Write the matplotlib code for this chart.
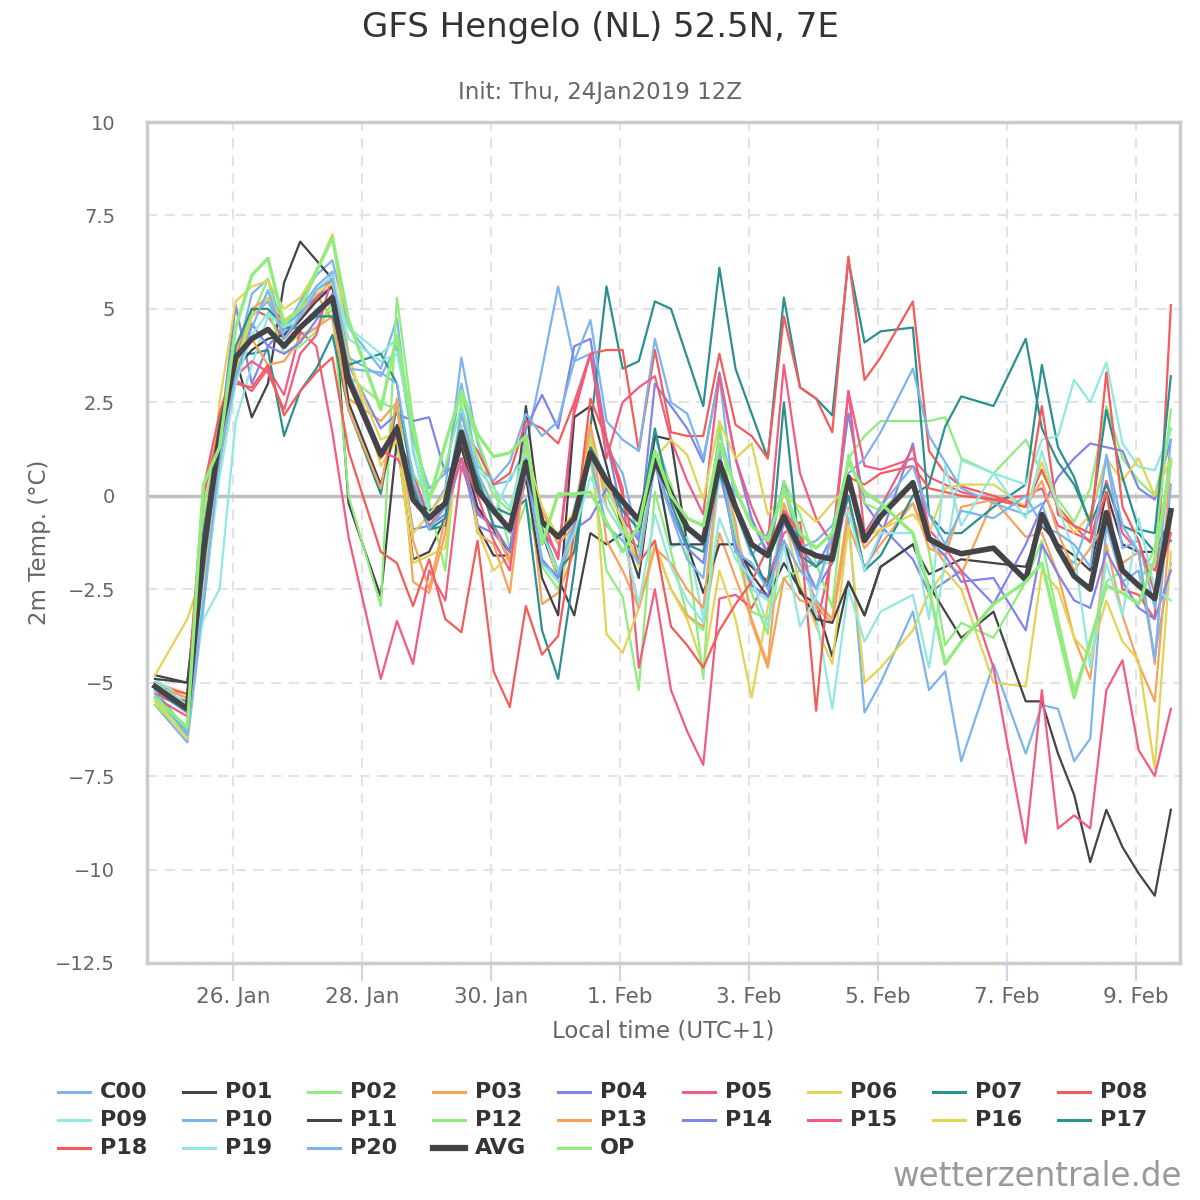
import matplotlib
matplotlib.use("Agg")
import matplotlib.pyplot as plt
from matplotlib.lines import Line2D

plt.rcParams["font.family"] = ["DejaVu Sans"]

# hours since 26 Jan 00:00 local time (UTC+1)
hours = [-29, -17, -11, -5, 1, 7, 13, 19, 25, 31, 37, 43,
         55, 61, 67, 73, 79, 85, 91, 97, 103, 109, 115, 121, 127, 133, 139, 145,
         151, 157, 163, 169, 175, 181, 187, 193, 199, 205, 211, 217, 223, 229, 235, 241,
         253, 259, 265, 271, 283, 295, 301, 307, 313, 319, 325, 331, 337, 343, 349]

C00 = [-5.6, -6.6, -3.0, 0.8, 3.6, 5.4, 5.8, 4.4, 5.2, 5.9, 6.3, 4.5,
       3.4, 4.75, 1.2, -0.5, 0.2, 3.7, 1.4, 0.3, 0.4, 1.3, 3.4, 5.6, 3.6, 3.8, 1.3, 0.6,
       -1.2, 1.6, 0.2, -0.9, -1.3, 1.7, 0.1, -0.7, -1.5, -0.5, -1.8, -2.8, -3.3, -0.6, -5.8, -5.0,
       -3.1, -5.2, -4.7, -7.1, -4.5, -6.9, -5.6, -5.7, -7.1, -6.5, -0.8, -2.3, -2.0, -4.3, -1.8]
P01 = [-4.8, -5.0, -1.0, 2.0, 3.7, 2.1, 3.0, 5.7, 6.8, 6.3, 5.8, -0.2,
       -2.7, 1.5, -1.7, -1.5, -0.6, 1.5, -0.8, -1.6, -1.6, 2.4, -1.0, -2.2, -3.2, -1.0, -1.3, -1.0,
       -1.4, 1.6, 1.5, -1.3, -1.3, 1.2, -1.5, -1.9, -2.3, -1.2, -2.6, -2.9, -4.3, -2.3, -3.2, -1.9,
       -1.3, -2.1, -1.9, -1.7, -1.8, -1.9, -0.8, -1.3, -1.6, -2.0, 0.1, -1.3, -1.5, -1.5, -0.6]
P02 = [-5.5, -6.3, -0.5, 1.0, 3.8, 4.8, 5.8, 4.0, 4.3, 4.5, 5.0, 0.0,
       -2.95, 5.3, 2.0, -0.2, -2.0, 2.6, 1.5, 0.3, -1.4, -0.2, -1.9, -2.5, -1.0, 1.0, -2.0, -2.7,
       -5.2, 0.1, -1.5, -3.2, -3.6, 1.0, -1.4, -3.1, -3.3, -2.2, -2.0, -1.8, -1.8, 1.0, 1.6, 2.0,
       2.0, 2.0, 2.1, 1.0, 0.6, 1.5, 0.6, -0.1, -0.7, 0.2, 2.4, 1.0, 0.4, 0.0, 1.8]
P03 = [-5.0, -5.3, -1.8, 2.0, 3.8, 5.0, 5.3, 4.5, 4.9, 5.4, 4.7, 2.6,
       2.0, 2.5, -2.3, -2.6, -1.0, 1.6, -1.0, -1.3, -2.6, 1.0, -2.9, -2.6, -1.5, 1.8, -1.2, -2.0,
       -3.0, -1.3, -2.5, -3.2, -3.5, -1.0, -2.2, -3.3, -4.5, -0.2, -1.4, -3.0, -3.4, -0.8, -1.9, -1.3,
       -0.2, -1.2, -1.8, -2.1, -0.1, -1.1, -1.0, -2.1, -3.8, -4.9, -1.3, -3.2, -4.5, -5.5, -0.6]
P04 = [-5.0, -5.7, -2.0, 1.5, 5.1, 3.0, 4.0, 4.5, 4.9, 5.3, 5.6, 3.5,
       1.8, 2.2, 2.0, 2.1, 0.6, 1.0, -0.8, -1.0, -1.5, 1.8, 2.7, 1.8, 4.0, 4.2, 1.5, -0.6,
       -1.2, 3.0, 2.4, 1.8, 0.9, 3.3, 1.0, -0.6, -1.6, 0.4, -1.4, -1.9, -1.1, 2.2, -0.2, -0.8,
       -1.7, -2.6, -2.3, -2.0, -2.9, -1.3, -0.3, 0.5, 1.0, 1.4, 1.3, 1.2, 0.2, -0.1, 1.5]
P05 = [-5.3, -5.7, -1.2, 1.0, 3.1, 2.8, 3.4, 2.7, 4.4, 4.0, 1.7, -1.1,
       -4.9, -3.35, -4.5, -2.0, -2.8, 0.8, -0.4, -0.9, -1.7, 1.0, -0.6, -1.7, 2.2, 3.8, 1.5, 0.2,
       -4.6, -2.5, -5.2, -6.3, -7.2, -2.75, -2.65, -3.0, -2.2, -1.0, -0.7, -3.5, -1.6, 2.8, 0.8, 0.7,
       1.0, 0.5, 0.3, 0.1, -0.1, 0.0, 0.2, -0.8, -1.0, -1.2, 0.4, -1.0, -1.5, -2.0, -0.5]
P06 = [-4.8, -3.3, -2.0, 2.5, 5.2, 5.6, 5.75, 5.0, 5.3, 6.0, 7.0, 3.8,
       0.8, 1.5, -1.8, -1.6, -1.4, 1.8, -0.9, -2.0, -1.6, 1.6, -0.8, -2.3, -1.0, 2.0, -3.7, -4.2,
       -3.0, -1.3, -2.5, -3.3, -4.6, -2.0, -3.3, -5.4, -3.0, -0.5, -2.4, -3.5, -4.5, -0.8, -5.0, -4.6,
       -3.6, -2.6, -2.0, -2.5, -5.0, -5.1, -2.0, -2.5, -3.8, -4.3, -2.8, -3.9, -4.4, -7.3, -1.5]
P07 = [-5.2, -5.8, -1.3, 2.0, 3.8, 3.8, 3.9, 1.6, 2.8, 3.4, 4.3, 2.3,
       0.05, 2.4, 0.6, -0.9, -0.8, 2.3, 0.3, -0.3, -0.5, -0.1, -3.6, -4.9, -2.0, 1.8, 5.6, 3.4,
       3.6, 5.2, 5.0, 3.7, 2.4, 6.1, 3.4, 2.2, 1.0, 5.3, 2.9, 2.6, 2.15, 6.3, 4.1, 4.4,
       4.5, -0.5, -1.0, -1.0, -0.3, 0.3, 3.5, 1.3, 0.5, -0.8, 0.3, -0.8, -1.0, -1.5, -1.2]
P08 = [-5.1, -5.3, 0.2, 2.2, 3.6, 5.0, 4.8, 4.2, 4.7, 5.3, 5.8, 3.2,
       1.0, 1.6, 0.6, -0.6, -0.3, 1.8, 1.2, 0.3, 0.6, 2.0, 1.8, 1.4, 2.5, 3.8, 3.9, 3.9,
       1.2, 3.9, 1.7, 1.6, 1.6, 3.8, 1.9, 1.6, 1.0, 4.8, 2.9, 2.6, 1.7, 6.4, 3.1, 3.7,
       5.2, 1.2, 0.6, 0.25, 0.0, -0.3, 0.7, -0.3, -0.8, -1.25, 0.1, -2.5, -2.65, -3.3, 5.1]
P09 = [-4.9, -5.5, -3.3, -2.5, 2.0, 3.5, 4.8, 4.6, 4.5, 5.0, 5.3, 4.5,
       3.8, 4.2, 1.3, -0.6, -0.2, 1.9, 0.5, -0.5, 0.5, 1.0, -1.8, -2.3, -0.3, 1.6, 0.2, -0.7,
       -1.5, 1.2, -1.4, -1.1, -3.3, 0.5, -0.9, -2.5, -2.8, -0.6, -1.3, -3.2, -5.7, -2.5, -3.9, -3.1,
       -2.65, -4.6, -1.7, 0.95, 0.6, 0.3, 1.5, 1.6, 3.1, 2.5, 3.57, 1.4, 0.78, 0.68, 1.75]
P10 = [-5.2, -6.3, -2.5, 1.5, 3.3, 4.8, 5.2, 4.3, 5.0, 5.6, 6.0, 3.7,
       3.2, 4.0, 1.5, 0.2, 0.6, 3.0, 0.8, 0.4, 0.9, 2.2, 1.6, 2.0, 3.6, 4.7, 2.0, 1.5,
       1.2, 4.2, 2.5, 2.2, 1.0, 3.2, -0.4, -1.6, -1.0, 0.2, -1.4, -1.2, -0.8, 0.6, 1.0, 1.7,
       3.4, 1.6, 0.9, 0.2, -0.2, -0.5, -0.2, -1.5, -1.8, -0.6, 1.0, -1.4, -1.2, -3.0, 1.5]
P11 = [-4.9, -5.0, -1.6, 1.5, 3.4, 3.9, 4.2, 4.3, 4.7, 5.2, 5.6, 2.5,
       0.3, 1.9, -0.1, -0.4, -0.2, 1.3, -0.3, -0.9, -1.5, 0.5, -2.2, -3.2, 2.1, 2.4, 0.8, -0.9,
       -2.2, 1.0, -1.3, -1.3, -2.6, -1.3, -1.3, -2.1, -2.7, -1.8, -2.5, -3.3, -3.4, -2.3, -3.2, -1.9,
       -1.3, -2.4, -3.1, -3.8, -3.1, -5.5, -5.5, -6.9, -8.0, -9.8, -8.4, -9.4, -10.1, -10.7, -8.4]
P12 = [-5.6, -6.4, -0.3, 1.5, 3.5, 5.0, 5.0, 3.8, 4.0, 4.4, 5.2, 3.2,
       2.5, 2.3, 0.6, -0.1, 0.8, 2.4, 1.0, 0.0, -0.4, 1.4, -0.8, -1.0, -0.7, 1.8, 0.0, -0.9,
       -1.7, 1.2, 0.3, -1.4, -4.9, 2.0, -1.1, -2.6, -3.7, 0.4, -0.5, -1.8, -3.0, 1.1, -0.2, -0.4,
       0.4, -1.5, -4.0, -3.4, -3.8, -2.3, -1.2, -3.3, -5.2, -4.0, -2.3, -2.0, -2.4, -1.4, 2.3]
P13 = [-5.1, -5.4, -1.5, 1.8, 3.6, 4.2, 3.5, 3.6, 4.2, 4.5, 4.8, 2.3,
       0.2, 2.6, -1.2, -2.5, -0.6, 2.2, 0.5, -0.8, -1.8, 0.6, -0.4, -1.3, -0.8, 1.9, -0.3, -1.0,
       -3.0, -1.4, -1.8, -2.5, -3.0, 0.8, -0.7, -3.4, -4.6, -2.2, -2.8, -2.9, -3.3, -0.3, -1.4, -0.9,
       -0.2, -1.4, -1.6, -0.3, -0.1, -0.3, 0.4, -1.0, -2.0, -1.4, -0.7, -1.8, -1.5, -4.5, 1.0]
P14 = [-5.1, -5.8, -2.2, 1.2, 3.2, 4.6, 4.0, 3.8, 4.1, 4.7, 5.4, 3.3,
       1.2, 1.7, -0.9, -0.8, -0.5, 1.0, -0.5, -0.8, -1.5, 0.7, -1.7, -2.2, -0.9, -0.6, 0.2, -0.4,
       -0.6, 0.9, -0.4, -1.4, -1.8, 0.7, -1.3, -2.4, -2.7, -0.7, -1.6, -2.5, -1.8, 0.0, -2.0, -1.1,
       1.4, -1.2, -1.6, -2.3, -2.2, -3.6, -1.3, -2.1, -2.8, -3.0, -1.5, -2.3, -3.0, -3.3, -2.0]
P15 = [-5.4, -5.9, -1.0, 1.8, 3.2, 3.6, 3.3, 2.3, 3.8, 4.3, 5.9, 3.0,
       1.2, 1.0, 0.3, -0.8, -0.3, 1.0, 0.0, -1.2, -2.0, 1.2, -0.9, -1.6, 2.4, 3.8, 1.0, 2.5,
       2.9, 3.2, 1.5, 0.4, -0.5, 3.2, 1.0, -0.3, -1.3, 3.5, 0.6, -0.6, -1.3, 2.8, -1.0, -0.3,
       1.3, -0.9, -1.4, -2.0, -4.6, -9.3, -5.2, -8.9, -8.55, -8.9, -5.2, -4.4, -6.8, -7.5, -5.7]
P16 = [-5.5, -6.5, -2.5, 1.0, 3.3, 4.8, 5.3, 4.7, 5.0, 5.4, 5.7, 3.6,
       1.5, 1.7, -1.0, -0.5, 0.1, 1.6, 0.6, -0.3, -0.9, 1.2, -0.3, -1.1, -0.4, 1.5, 0.3, -0.7,
       -1.9, 1.0, 1.5, 1.1, -0.1, 2.0, 1.0, 1.4, -0.5, 0.0, -0.3, -0.7, -0.2, 0.3, -1.1, -0.9,
       -0.5, -1.0, 0.2, 0.3, 0.3, -0.3, 0.9, -0.3, -1.0, -0.5, 1.0, 0.4, 1.0, 0.0, 1.0]
P17 = [-5.0, -5.6, -1.0, 1.5, 4.0, 5.0, 5.0, 4.5, 4.5, 4.8, 4.8, 3.5,
       3.8, 3.0, 0.2, -0.9, -0.6, 2.3, 0.5, -0.8, -0.9, 0.8, -0.9, -2.0, -1.5, 1.3, 0.5, -0.4,
       -0.9, 1.8, -0.2, -1.3, -1.5, 0.6, -0.4, -1.5, -2.5, 2.5, -1.6, -1.9, -1.5, 0.0, -2.0, -1.6,
       0.0, 0.3, 1.85, 2.66, 2.4, 4.2, 1.8, 0.9, 0.3, -0.7, 2.3, 0.5, -0.9, -1.0, 3.2]
P18 = [-5.3, -5.5, 0.0, 1.8, 3.0, 2.9, 3.5, 2.15, 2.8, 3.3, 3.7, 1.2,
       -1.5, -1.8, -2.95, -1.7, -3.3, -3.65, -1.2, -4.7, -5.65, -2.95, -4.25, -3.75, -1.0, 2.6, 1.5, 0.0,
       -1.8, -1.2, -3.5, -4.0, -4.6, -3.6, -2.9, -2.3, -1.4, -0.4, -1.0, -5.75, -1.2, 0.5, 0.3, 0.6,
       0.8, 0.2, 0.1, 0.0, -0.1, -0.3, 2.4, -0.5, -0.8, -1.0, 3.3, -0.3, -1.2, -2.6, -1.0]
P19 = [-5.0, -5.6, -2.7, 0.5, 3.0, 4.3, 4.9, 4.5, 4.8, 5.5, 5.9, 4.2,
       3.6, 3.8, 1.8, -0.5, -0.2, 2.3, 0.7, 0.2, -0.3, 1.1, -1.0, -2.0, -1.0, 0.5, -0.3, -1.0,
       -2.9, -0.5, -1.9, -2.8, -3.4, -0.6, -1.7, -2.2, -3.5, -1.3, -3.5, -2.7, -1.0, -0.4, -2.0, -1.0,
       -1.0, -3.3, 0.8, -0.8, 0.6, -0.6, 1.2, -0.3, -1.5, -4.6, -1.8, -3.2, -0.6, -2.5, -2.8]
P20 = [-5.3, -6.4, -2.8, 1.0, 3.2, 4.5, 5.5, 4.2, 4.8, 5.5, 5.8, 3.4,
       3.3, 3.0, 0.5, -0.9, -0.3, 2.2, 0.6, -0.3, -1.0, 1.0, -1.8, -2.1, -0.7, 1.0, -0.8, -1.2,
       -1.8, 0.8, -0.5, -1.7, -2.2, 1.2, -1.5, -1.8, -2.5, -1.2, -2.0, -2.5, -1.1, 0.5, -1.2, -0.3,
       0.8, -0.5, -1.3, -0.4, -0.6, 0.0, -0.8, -1.0, -1.3, -1.9, 1.1, -0.8, -1.5, -4.4, 0.3]
AVG = [-5.1, -5.7, -1.5, 1.6, 3.7, 4.2, 4.45, 4.0, 4.5, 4.9, 5.3, 3.1,
       1.1, 1.8, -0.1, -0.6, -0.2, 1.7, 0.15, -0.4, -0.9, 0.9, -0.7, -1.1, -0.6, 1.15, 0.4, -0.15,
       -0.65, 0.95, 0.05, -0.85, -1.2, 0.9, -0.3, -1.3, -1.6, -0.55, -1.4, -1.6, -1.7, 0.5, -1.2, -0.55,
       0.35, -1.15, -1.4, -1.55, -1.4, -2.25, -0.5, -1.4, -2.15, -2.5, -0.45, -2.0, -2.4, -2.75, -0.4]
OP = [-5.4, -6.2, 0.3, 1.3, 4.5, 5.9, 6.35, 4.6, 5.0, 6.0, 6.9, 4.7,
      2.3, 4.3, 1.7, -0.1, 1.4, 2.8, 1.65, 1.05, 1.15, 1.6, -1.3, 0.05, 0.05, 0.1, -0.7, -1.5,
      -0.8, 1.2, 0.0, -0.6, -0.8, 1.4, 0.2, -0.8, -1.2, 0.2, -1.0, -1.4, -1.0, 0.9, 0.1, -0.2,
      -1.0, -2.5, -4.5, -3.9, -2.9, -2.3, -1.8, -3.6, -5.4, -3.9, -2.4, -2.6, -2.9, -1.7, 0.9]

names = ["C00", "P01", "P02", "P03", "P04", "P05", "P06", "P07", "P08", "P09",
         "P10", "P11", "P12", "P13", "P14", "P15", "P16", "P17", "P18", "P19",
         "P20", "AVG", "OP"]
series = [C00, P01, P02, P03, P04, P05, P06, P07, P08, P09,
          P10, P11, P12, P13, P14, P15, P16, P17, P18, P19,
          P20, AVG, OP]
palette = ["#7cb5ec", "#434348", "#90ed7d", "#f7a35c", "#8085e9",
           "#f15c80", "#e4d354", "#2b908f", "#f45b5b", "#91e8e1"]
colors = [palette[i % 10] for i in range(21)] + ["#434348", "#90ed7d"]
widths = [1.6] * 21 + [4.0, 2.4]

tick_hours = [0, 48, 96, 144, 192, 240, 288, 336]
tick_labels = ["26. Jan", "28. Jan", "30. Jan", "1. Feb", "3. Feb", "5. Feb", "7. Feb", "9. Feb"]
y_ticks = [-12.5, -10, -7.5, -5, -2.5, 0, 2.5, 5, 7.5, 10]

fig = plt.figure(figsize=(12, 12), dpi=100)
ax = fig.add_axes([147 / 1200, 1 - 963 / 1200, (1180 - 147) / 1200, (963 - 122) / 1200])

for name, vals, c, w in zip(names, series, colors, widths):
    ax.plot(hours, vals, color=c, lw=w, solid_joinstyle="round", zorder=3)

ax.axhline(0, color="#c0c0c0", lw=2.5, zorder=2)
ax.set_xlim(-32, 352.4)
ax.set_ylim(-12.5, 10)
ax.set_xticks(tick_hours)
ax.set_xticklabels(tick_labels)
ax.set_yticks(y_ticks)
ax.set_yticklabels([("%g" % v).replace("-", "\u2212") for v in y_ticks])
ax.grid(True, color="#e3e3e3", lw=1.5, linestyle=(0, (5, 3.5)), zorder=1)
ax.tick_params(axis="y", length=0, pad=23, labelsize=14, labelcolor="#666666")
ax.tick_params(axis="x", length=13, width=1.5, color="#ccd6eb", pad=4,
               labelsize=15.5, labelcolor="#666666")
for s in ax.spines.values():
    s.set_color("#cccccc")
    s.set_linewidth(2.5)

ax.set_xlabel("Local time (UTC+1)", fontsize=16.5, color="#666666", labelpad=9)
ax.set_ylabel("2m Temp. (\u00b0C)", fontsize=16.5, color="#666666", labelpad=3)

fig.text(0.5, 1 - 28 / 1200, "GFS Hengelo (NL) 52.5N, 7E", ha="center", va="center",
         fontsize=24.5, color="#333333")
fig.text(0.5, 1 - 92 / 1200, "Init: Thu, 24Jan2019 12Z", ha="center", va="center",
         fontsize=16.5, color="#666666")

# legend, 9 columns filled row by row
for k, (name, c, w) in enumerate(zip(names, colors, widths)):
    row, col = divmod(k, 9)
    x0 = (58 + col * 125) / 1200
    y0 = 1 - (1092 + row * 28) / 1200
    fig.add_artist(Line2D([x0, x0 + 32 / 1200], [y0, y0], transform=fig.transFigure,
                          color=c, lw=4.5 if name == "AVG" else 2.2))
    fig.text(x0 + 42 / 1200, y0, name, ha="left", va="center", fontsize=16,
             fontweight="bold", color="#333333")

fig.text(1182 / 1200, 1 - 1177 / 1200, "wetterzentrale.de", ha="right", va="center",
         fontsize=23.5, color="#999999")

fig.savefig("out.png", dpi=100)
